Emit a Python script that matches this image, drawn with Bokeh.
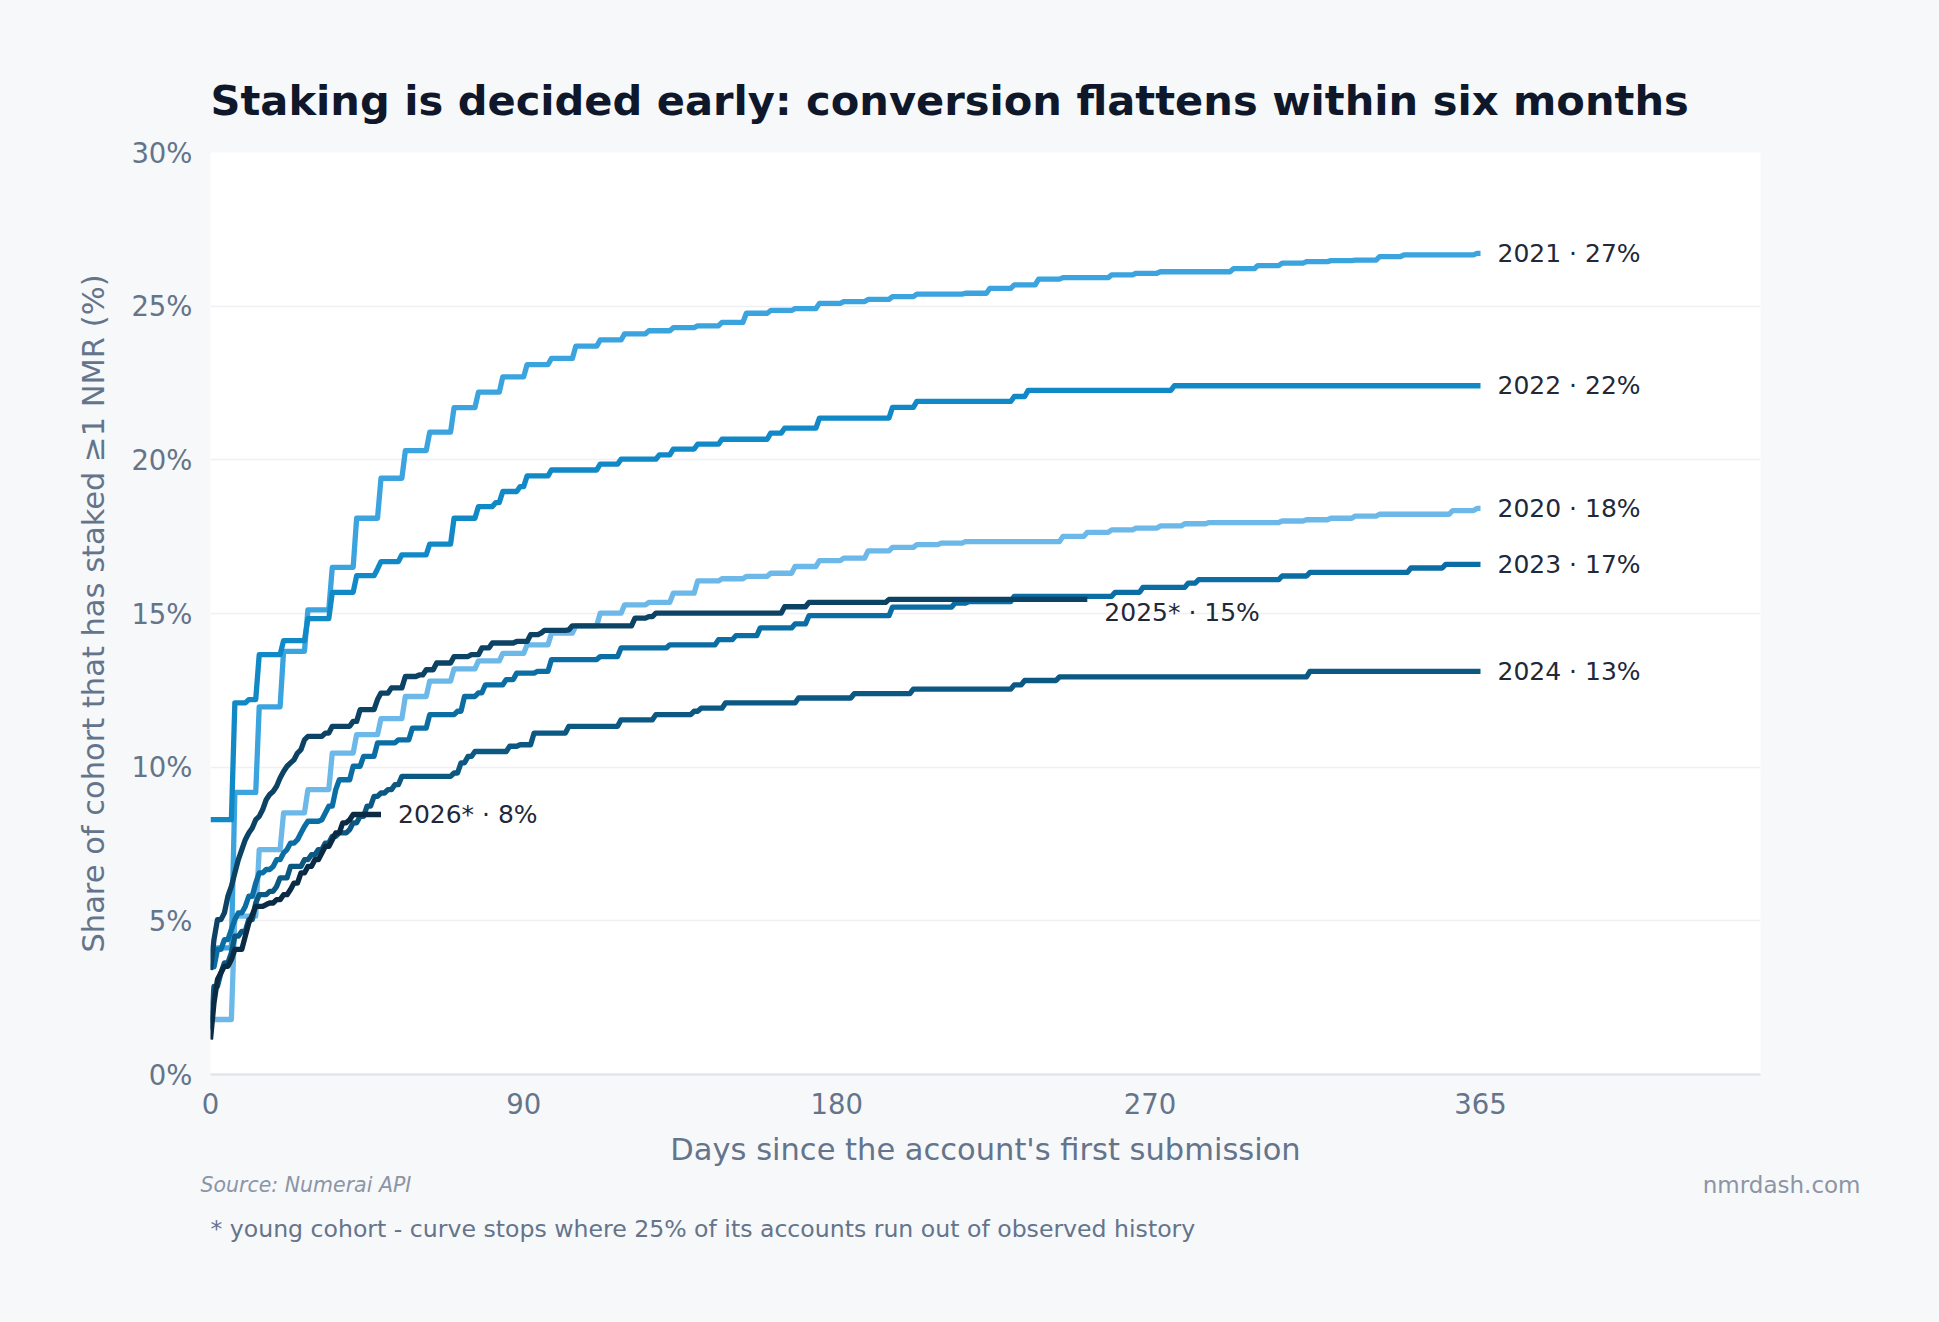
from bokeh.plotting import figure
from bokeh.layouts import column
from bokeh.models import Range1d, FixedTicker, PrintfTickFormatter, ColumnDataSource, Plot, Text
from bokeh.core.properties import value
from bokeh.embed import file_html
from bokeh.resources import INLINE

# Cumulative share of each sign-up cohort that has staked at least 1 NMR,
# by days since the account's first submission. Each pair of lists holds the
# day a new level is first observed and the level (%) from that day on.
COHORTS = ["2020", "2021", "2022", "2023", "2024", "2025*", "2026*"]

DAYS_2020 = [0, 7, 14, 21, 28, 35, 42, 49, 56, 63, 70, 77, 84, 91, 98, 105, 112, 119, 126, 133,
             140, 147, 154, 161, 168, 175, 182, 189, 196, 203, 210, 217, 245, 252, 259, 266, 273, 280, 287, 308,
             315, 322, 329, 336, 357, 364]
SHARE_2020 = [1.79, 5.15, 7.32, 8.51, 9.27, 10.46, 11.06, 11.58, 12.30, 12.80, 13.20, 13.46, 13.70, 13.98, 14.36, 14.60, 15.01, 15.28, 15.36, 15.66,
              16.06, 16.13, 16.21, 16.31, 16.53, 16.72, 16.80, 17.04, 17.15, 17.24, 17.29, 17.34, 17.51, 17.64, 17.72, 17.78, 17.85, 17.92, 17.96, 18.01,
              18.05, 18.10, 18.17, 18.23, 18.35, 18.42]

DAYS_2021 = [0, 7, 14, 21, 28, 35, 42, 49, 56, 63, 70, 77, 84, 91, 98, 105, 112, 119, 126, 133,
             140, 147, 154, 161, 168, 175, 182, 189, 196, 203, 217, 224, 231, 238, 245, 259, 266, 273, 294, 301,
             308, 315, 322, 329, 336, 343, 364]
SHARE_2021 = [4.12, 9.18, 11.96, 13.77, 15.12, 16.50, 18.10, 19.40, 20.30, 20.90, 21.70, 22.20, 22.70, 23.10, 23.30, 23.70, 23.90, 24.10, 24.20, 24.30,
              24.36, 24.47, 24.77, 24.86, 24.92, 25.09, 25.15, 25.22, 25.31, 25.39, 25.42, 25.58, 25.69, 25.88, 25.93, 26.02, 26.07, 26.12, 26.22, 26.32,
              26.40, 26.45, 26.48, 26.50, 26.61, 26.67, 26.72]

DAYS_2022 = [0, 7, 11, 14, 21, 28, 35, 42, 48, 49, 55, 63, 70, 77, 82, 84, 89, 91, 98, 112,
             118, 129, 133, 140, 147, 161, 165, 175, 196, 203, 231, 235, 277]
SHARE_2022 = [8.29, 12.09, 12.20, 13.66, 14.12, 14.83, 15.69, 16.23, 16.45, 16.69, 16.91, 17.26, 18.10, 18.48, 18.61, 18.97, 19.13, 19.48, 19.67, 19.86,
              20.02, 20.16, 20.35, 20.51, 20.67, 20.87, 21.03, 21.36, 21.71, 21.90, 22.06, 22.26, 22.41]

DAYS_2023 = [0, 2, 4, 6, 7, 8, 10, 11, 13, 14, 16, 18, 19, 21, 22, 23, 25, 26, 27, 28,
             32, 33, 34, 36, 37, 41, 44, 48, 54, 58, 63, 71, 73, 77, 79, 85, 88, 94, 98, 112,
             118, 132, 146, 151, 158, 168, 172, 196, 214, 218, 231, 260, 268, 281, 284, 308, 316, 345, 355]
SHARE_2023 = [3.50, 4.07, 4.39, 4.72, 5.04, 5.26, 5.47, 5.80, 6.23, 6.56, 6.67, 6.77, 6.99, 7.21, 7.32, 7.53, 7.64, 7.86, 8.07, 8.24,
              8.29, 8.51, 8.73, 9.27, 9.59, 10.03, 10.35, 10.79, 10.89, 11.27, 11.71, 11.82, 12.30, 12.42, 12.68, 12.85, 13.06, 13.12, 13.50, 13.60,
              13.88, 13.98, 14.15, 14.28, 14.53, 14.66, 14.93, 15.21, 15.34, 15.39, 15.56, 15.69, 15.85, 15.99, 16.10, 16.22, 16.34, 16.48, 16.60]

DAYS_2024 = [0, 1, 3, 4, 6, 7, 9, 11, 13, 14, 17, 19, 20, 23, 27, 29, 31, 33, 35, 37,
             40, 41, 43, 45, 47, 49, 51, 53, 55, 70, 72, 74, 76, 86, 89, 93, 103, 118, 128, 139,
             141, 148, 169, 185, 202, 231, 234, 244, 316]
SHARE_2024 = [1.46, 2.87, 3.31, 3.63, 3.96, 4.50, 4.66, 5.04, 5.58, 5.85, 5.96, 6.12, 6.40, 6.77, 6.99, 7.15, 7.32, 7.53, 7.75, 7.86,
              7.97, 8.19, 8.40, 8.73, 9.05, 9.16, 9.27, 9.43, 9.70, 9.81, 10.14, 10.35, 10.51, 10.68, 10.73, 11.11, 11.33, 11.54, 11.71, 11.82,
              11.92, 12.09, 12.25, 12.39, 12.54, 12.68, 12.82, 12.94, 13.12]

DAYS_2025 = [0, 1, 2, 4, 5, 6, 7, 8, 9, 10, 11, 12, 13, 14, 15, 16, 17, 18, 19, 20,
             21, 22, 23, 24, 25, 26, 27, 28, 33, 35, 41, 43, 48, 49, 52, 56, 60, 62, 65, 70,
             75, 78, 81, 88, 92, 95, 96, 103, 104, 122, 126, 128, 165, 172, 195]
SHARE_2025 = [3.40, 4.39, 5.04, 5.26, 5.80, 6.12, 6.56, 6.99, 7.32, 7.64, 7.86, 8.02, 8.29, 8.40, 8.62, 8.94, 9.11, 9.21, 9.38, 9.65,
              9.86, 10.03, 10.14, 10.24, 10.46, 10.57, 10.89, 11.00, 11.11, 11.33, 11.49, 11.87, 12.20, 12.41, 12.58, 12.95, 13.00, 13.17, 13.39, 13.60,
              13.66, 13.88, 14.04, 14.09, 14.31, 14.36, 14.45, 14.47, 14.60, 14.85, 14.90, 15.01, 15.22, 15.36, 15.46]

DAYS_2026 = [0, 1, 2, 3, 4, 6, 7, 10, 11, 12, 13, 16, 17, 19, 21, 23, 24, 26, 28, 30,
             32, 33, 35, 36, 38, 40, 41]
SHARE_2026 = [1.14, 2.33, 3.09, 3.31, 3.52, 3.74, 4.07, 4.50, 4.93, 5.20, 5.47, 5.53, 5.58, 5.69, 5.85, 6.02, 6.23, 6.56, 6.77, 6.99,
              7.21, 7.42, 7.64, 7.86, 8.19, 8.29, 8.46]

# last day of observed history for each cohort's curve
LAST_DAY = [365, 365, 365, 365, 365, 252, 49]

X_TICKS = [0, 90, 180, 270, 365]
Y_TICKS = [0, 5, 10, 15, 20, 25, 30]

SERIES = [(DAYS_2020, SHARE_2020), (DAYS_2021, SHARE_2021), (DAYS_2022, SHARE_2022),
          (DAYS_2023, SHARE_2023), (DAYS_2024, SHARE_2024), (DAYS_2025, SHARE_2025),
          (DAYS_2026, SHARE_2026)]

SOURCE_NOTE = "Source: Numerai API"
BRAND = "nmrdash.com"
FOOTNOTE = "* young cohort - curve stops where 25% of its accounts run out of observed history"

# styling
COLORS = ["#6cb8e8", "#3ba3de", "#1189c7", "#0a6ea5", "#0b5883", "#0c4263", "#0b2b45"]
LABEL_NUDGE_PX = [0, 0, 0, 0, 0, 13, 0]   # push the 2025 tag clear of the 2023 line
FONT = "DejaVu Sans"
INK = "#0f172a"
MUTED = "#64748b"
FAINT = "#8b95a5"
PAGE_BG = "#f7f8fa"
W = 1939
CHART_H = 1169
NOTES_H = 153


def daily_path(days, share, last_day):
    """Daily-sampled cumulative curve: each new level is reached one day after the previous one."""
    xs, ys = [days[0]], [share[0]]
    for d, v in zip(days[1:], share[1:]):
        prev = ys[-1]
        xs += [d - 1, d]
        ys += [prev, v]
    xs.append(last_day)
    ys.append(ys[-1])
    return xs, ys


p = figure(
    width=W, height=CHART_H,
    x_range=Range1d(0, 445.47), y_range=Range1d(0, 30),
    output_backend="svg", toolbar_location=None,
    min_border_left=210, min_border_right=179, min_border_top=152, min_border_bottom=CHART_H - 1075,
    background_fill_color="#ffffff", border_fill_color=PAGE_BG,
)
p.outline_line_color = None
p.frame_align = False

# headline
p.title.text = "Staking is decided early: conversion flattens within six months"
p.title.text_font = FONT
p.title.text_font_size = "41.6px"
p.title.text_font_style = "bold"
p.title.text_color = INK
p.title.align = "left"
p.title.offset = 0
p.title.standoff = 55

for (days, share), color, last in zip(SERIES, COLORS, LAST_DAY):
    xs, ys = daily_path(days, share, last)
    p.line(xs, ys, line_color=color, line_width=5.3, line_join="round", line_cap="butt")

# end-of-curve tags
tags = ColumnDataSource(dict(
    x=LAST_DAY,
    y=[s[-1] for _, s in SERIES],
    text=[f"{name} \u00b7 {round(s[-1])}%" for name, (_, s) in zip(COHORTS, SERIES)],
    dy=LABEL_NUDGE_PX,
))
p.text(x="x", y="y", text="text", source=tags, x_offset=17, y_offset="dy",
       text_baseline="middle", text_align="left",
       text_font=value(FONT), text_font_size="25px", text_color="#1e293b")

# axes
p.xaxis.ticker = FixedTicker(ticks=X_TICKS)
p.yaxis.ticker = FixedTicker(ticks=Y_TICKS)
p.yaxis.formatter = PrintfTickFormatter(format="%d%%")
for ax in (p.xaxis[0], p.yaxis[0]):
    ax.major_tick_line_color = None
    ax.minor_tick_line_color = None
    ax.major_label_text_font = FONT
    ax.major_label_text_font_size = "27.5px"
    ax.major_label_text_color = MUTED
    ax.axis_label_text_font = FONT
    ax.axis_label_text_font_size = "30.5px"
    ax.axis_label_text_font_style = "normal"
    ax.axis_label_text_color = MUTED

p.xaxis.axis_label = "Days since the account's first submission"
p.xaxis.axis_line_color = "#e2e6ea"
p.xaxis.axis_line_width = 2.5
p.xaxis.major_label_standoff = 12
p.xaxis.axis_label_standoff = 15

p.yaxis.axis_label = "Share of cohort that has staked \u22651 NMR (%)"
p.yaxis.axis_line_color = None
p.yaxis.major_label_standoff = 12
p.yaxis.axis_label_standoff = 17

p.xgrid.grid_line_color = None
p.ygrid.grid_line_color = "#eef0f3"
p.ygrid.grid_line_width = 1.6

# strip underneath for the source line, site name and footnote (pixel coordinates, y down)
notes = Plot(
    width=W, height=NOTES_H,
    x_range=Range1d(0, W), y_range=Range1d(NOTES_H, 0),
    output_backend="svg", toolbar_location=None, title=None,
    min_border=0, min_border_left=0, min_border_right=0, min_border_top=0, min_border_bottom=0,
    background_fill_color=PAGE_BG, border_fill_color=PAGE_BG, outline_line_color=None,
    frame_align=False,
)
notes.add_glyph(ColumnDataSource(dict(x=[200], y=[15.4], text=[SOURCE_NOTE])),
                Text(x="x", y="y", text="text", text_baseline="alphabetic", text_align="left",
                     text_font=value(FONT), text_font_size="20.5px", text_font_style="italic", text_color=FAINT))
notes.add_glyph(ColumnDataSource(dict(x=[1860], y=[15.4], text=[BRAND])),
                Text(x="x", y="y", text="text", text_baseline="alphabetic", text_align="right",
                     text_font=value(FONT), text_font_size="23px", text_color=FAINT))
notes.add_glyph(ColumnDataSource(dict(x=[210], y=[59.6], text=[FOOTNOTE])),
                Text(x="x", y="y", text="text", text_baseline="alphabetic", text_align="left",
                     text_font=value(FONT), text_font_size="23.6px", text_color=MUTED))

page = column(p, notes, spacing=0, styles={"background-color": PAGE_BG})
open("out.html", "w").write(file_html(page, INLINE))
